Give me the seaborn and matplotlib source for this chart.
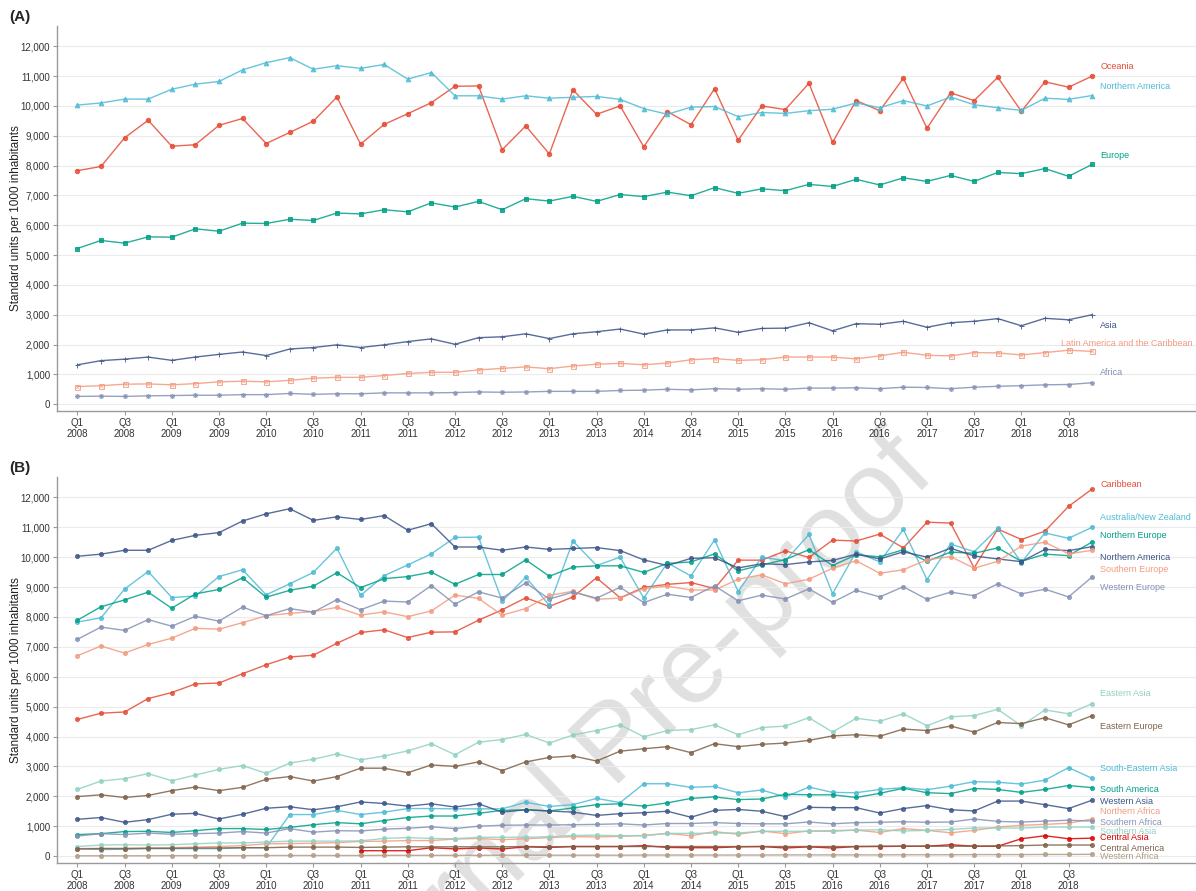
import matplotlib
matplotlib.use('Agg')
import pandas as pd
import matplotlib.pyplot as plt
import seaborn as sns
from matplotlib.ticker import FuncFormatter, MultipleLocator

# Estilo general
sns.set_theme(style='white')
plt.rcParams['font.family'] = ['Liberation Sans', 'DejaVu Sans']

YEARS = list(range(2008, 2019))
N_Q = 4 * len(YEARS)
TICK_POS = list(range(0, N_Q, 2))
TICK_LABELS = [f'Q{q}\n{y}' for y in YEARS for q in (1, 3)]

# ---- Panel A: regiones continentales (unidades estandar por 1000 hab.) ----
oceania = [7830, 7970, 8930, 9520, 8650, 8700, 9350, 9580, 8740, 9110, 9490, 10300,
           8720, 9380, 9740, 10110, 10660, 10670, 8530, 9330, 8390, 10540, 9720, 10000,
           8630, 9810, 9370, 10580, 8850, 10000, 9880, 10760, 8780, 10180, 9840, 10930,
           9250, 10440, 10180, 10960, 9820, 10810, 10630, 11000]
north_america = [10030, 10100, 10230, 10230, 10560, 10730, 10820, 11210, 11450, 11620, 11230, 11350,
                 11260, 11390, 10900, 11120, 10340, 10340, 10230, 10340, 10260, 10290, 10320, 10220,
                 9910, 9720, 9960, 9980, 9640, 9780, 9750, 9840, 9890, 10100, 9940, 10180,
                 10000, 10300, 10040, 9940, 9850, 10260, 10220, 10350]
europe = [5220, 5490, 5400, 5610, 5600, 5880, 5800, 6070, 6060, 6200, 6160, 6410,
          6380, 6520, 6450, 6750, 6610, 6800, 6520, 6890, 6810, 6970, 6800, 7030,
          6960, 7110, 6990, 7260, 7070, 7220, 7160, 7370, 7300, 7540, 7350, 7590,
          7470, 7670, 7470, 7770, 7730, 7900, 7640, 8040]
asia = [1320, 1460, 1510, 1580, 1470, 1580, 1670, 1750, 1630, 1850, 1900, 1990,
        1900, 1990, 2100, 2190, 2010, 2230, 2260, 2360, 2200, 2360, 2430, 2520,
        2350, 2490, 2490, 2560, 2410, 2540, 2550, 2730, 2460, 2700, 2680, 2780,
        2580, 2730, 2780, 2870, 2630, 2880, 2830, 3000]
latin_america = [590, 620, 670, 680, 650, 690, 750, 770, 750, 800, 870, 900,
                 900, 960, 1030, 1070, 1070, 1150, 1200, 1250, 1190, 1280, 1340, 1370,
                 1320, 1380, 1490, 1530, 1470, 1490, 1580, 1580, 1580, 1520, 1620, 1740,
                 1640, 1620, 1730, 1720, 1650, 1730, 1810, 1770]
africa = [260, 270, 260, 280, 290, 300, 300, 320, 320, 360, 330, 350,
          350, 380, 380, 380, 390, 410, 400, 410, 430, 430, 430, 460,
          470, 500, 480, 520, 500, 520, 500, 540, 540, 550, 520, 570,
          560, 520, 570, 600, 620, 650, 660, 720]

# ---- Panel B: subregiones ----
caribbean = [4570, 4780, 4820, 5270, 5470, 5760, 5790, 6100, 6400, 6660, 6720, 7120,
             7480, 7570, 7310, 7490, 7500, 7890, 8240, 8640, 8350, 8670, 9310, 8640,
             8990, 9090, 9150, 8950, 9900, 9900, 10210, 9990, 10570, 10540, 10770, 10310,
             11170, 11140, 9640, 10940, 10590, 10870, 11700, 12280]
northern_europe = [7890, 8340, 8570, 8830, 8290, 8770, 8920, 9310, 8660, 8890, 9030, 9480,
                   8980, 9280, 9350, 9500, 9090, 9420, 9420, 9910, 9360, 9670, 9710, 9710,
                   9490, 9790, 9840, 10110, 9540, 9740, 9920, 10250, 9720, 10080, 10010, 10250,
                   9860, 10170, 10130, 10310, 9860, 10100, 10050, 10510]
southern_europe = [6700, 7030, 6790, 7080, 7290, 7620, 7590, 7810, 8040, 8120, 8180, 8320,
                   8060, 8170, 8010, 8200, 8730, 8620, 8060, 8280, 8720, 8860, 8590, 8630,
                   8950, 9030, 8900, 8900, 9260, 9410, 9110, 9260, 9630, 9880, 9460, 9580,
                   9910, 10020, 9630, 9860, 10370, 10500, 10110, 10230]
western_europe = [7250, 7660, 7550, 7910, 7690, 8020, 7860, 8330, 8040, 8280, 8160, 8580,
                  8240, 8530, 8500, 9050, 8430, 8840, 8630, 9140, 8600, 8830, 8630, 8990,
                  8480, 8760, 8650, 9040, 8540, 8730, 8600, 8940, 8490, 8890, 8670, 9010,
                  8590, 8830, 8710, 9110, 8770, 8930, 8670, 9340]
eastern_asia = [2230, 2510, 2590, 2760, 2520, 2710, 2900, 3030, 2770, 3110, 3240, 3420,
                3220, 3350, 3520, 3760, 3390, 3810, 3900, 4070, 3780, 4050, 4200, 4390,
                3990, 4200, 4230, 4390, 4060, 4300, 4350, 4630, 4150, 4610, 4510, 4760,
                4360, 4660, 4700, 4910, 4360, 4890, 4760, 5100]
eastern_europe = [1990, 2050, 1960, 2030, 2190, 2310, 2190, 2300, 2570, 2660, 2510, 2660,
                  2940, 2940, 2790, 3050, 3000, 3150, 2860, 3150, 3300, 3350, 3180, 3510,
                  3590, 3660, 3460, 3760, 3660, 3740, 3780, 3870, 4020, 4060, 4010, 4250,
                  4200, 4350, 4150, 4470, 4430, 4630, 4390, 4700]
se_asia = [250, 220, 230, 250, 250, 250, 250, 280, 280, 1390, 1390, 1530,
           1390, 1470, 1590, 1590, 1580, 1580, 1580, 1800, 1660, 1720, 1930, 1790,
           2420, 2420, 2300, 2330, 2120, 2210, 1980, 2310, 2130, 2120, 2230, 2290,
           2220, 2340, 2490, 2470, 2410, 2540, 2960, 2600]
south_america = [720, 750, 820, 830, 790, 850, 920, 920, 890, 960, 1050, 1120,
                 1080, 1190, 1290, 1340, 1340, 1430, 1530, 1550, 1510, 1610, 1720, 1750,
                 1670, 1780, 1930, 1980, 1890, 1910, 2070, 2050, 2050, 1960, 2100, 2270,
                 2120, 2090, 2260, 2230, 2130, 2230, 2360, 2290]
western_asia = [1230, 1290, 1130, 1220, 1400, 1430, 1240, 1400, 1600, 1650, 1550, 1650,
                1810, 1760, 1670, 1750, 1640, 1750, 1470, 1550, 1510, 1470, 1360, 1420,
                1450, 1500, 1300, 1530, 1560, 1500, 1320, 1630, 1620, 1620, 1440, 1590,
                1690, 1550, 1510, 1840, 1840, 1720, 1590, 1870]
northern_africa = [250, 260, 260, 270, 280, 300, 320, 350, 410, 420, 430, 450,
                   490, 500, 520, 520, 570, 590, 550, 580, 620, 650, 640, 660,
                   690, 760, 680, 820, 730, 840, 750, 840, 850, 870, 790, 920,
                   860, 780, 860, 970, 1030, 1060, 1100, 1240]
southern_africa = [670, 750, 720, 770, 730, 750, 770, 820, 770, 920, 800, 850,
                   840, 900, 930, 980, 920, 1000, 1030, 1040, 1040, 1050, 1060, 1080,
                   1040, 1090, 1090, 1120, 1090, 1080, 1080, 1140, 1080, 1120, 1130, 1150,
                   1130, 1140, 1240, 1160, 1140, 1170, 1200, 1170]
southern_asia = [320, 370, 380, 370, 380, 410, 440, 440, 470, 500, 500, 500,
                 510, 590, 620, 590, 580, 630, 630, 630, 650, 690, 700, 680,
                 680, 760, 760, 770, 770, 830, 830, 830, 830, 870, 880, 840,
                 860, 890, 940, 940, 940, 970, 970, 970]
# Asia Central sin datos antes de 2011
central_asia = [None] * 12 + [180, 180, 180, 280, 240, 270, 240, 310, 290, 320, 320, 320,
                              350, 290, 280, 280, 310, 320, 270, 310, 270, 320, 320, 330,
                              330, 380, 330, 330, 580, 680, 580, 600]
central_america = [240, 250, 250, 260, 260, 270, 270, 280, 280, 300, 300, 300,
                   290, 300, 310, 310, 310, 310, 310, 320, 310, 320, 320, 320,
                   320, 320, 320, 320, 320, 320, 320, 320, 320, 320, 330, 330,
                   330, 330, 330, 340, 350, 370, 370, 370]
western_africa = [10, 10, 10, 10, 15, 15, 15, 15, 20, 20, 20, 20,
                  20, 25, 25, 25, 25, 25, 30, 30, 30, 30, 30, 30,
                  35, 35, 35, 35, 35, 35, 40, 40, 40, 40, 40, 45,
                  45, 45, 50, 50, 50, 55, 55, 60]

SERIES_A = {
    'Oceania': oceania,
    'Northern America': north_america,
    'Europe': europe,
    'Asia': asia,
    'Latin America and the Caribbean': latin_america,
    'Africa': africa,
}
SERIES_B = {
    'Caribbean': caribbean,
    'Australia/New Zealand': oceania,
    'Northern Europe': northern_europe,
    'Northern America': north_america,
    'Southern Europe': southern_europe,
    'Western Europe': western_europe,
    'Eastern Asia': eastern_asia,
    'Eastern Europe': eastern_europe,
    'South-Eastern Asia': se_asia,
    'South America': south_america,
    'Western Asia': western_asia,
    'Northern Africa': northern_africa,
    'Southern Africa': southern_africa,
    'Southern Asia': southern_asia,
    'Central Asia': central_asia,
    'Central America': central_america,
    'Western Africa': western_africa,
}

# colores (paleta npg) y marcadores
STYLE_A = {
    'Oceania': ('#E64B35', 'o'),
    'Northern America': ('#4DBBD5', '^'),
    'Europe': ('#00A087', 's'),
    'Asia': ('#3C5488', '+'),
    'Latin America and the Caribbean': ('#F39B7F', 'boxx'),
    'Africa': ('#8491B4', (8, 2, 0)),
}
STYLE_B = {
    'Caribbean': '#E64B35', 'Australia/New Zealand': '#4DBBD5', 'Northern Europe': '#00A087',
    'Northern America': '#3C5488', 'Southern Europe': '#F39B7F', 'Western Europe': '#8491B4',
    'Eastern Asia': '#91D1C2', 'Eastern Europe': '#7E6148', 'South-Eastern Asia': '#4DBBD5',
    'South America': '#00A087', 'Western Asia': '#3C5488', 'Northern Africa': '#F39B7F',
    'Southern Africa': '#8491B4', 'Southern Asia': '#91D1C2', 'Central Asia': '#DC0000',
    'Central America': '#7E6148', 'Western Africa': '#B09C85',
}

# posicion vertical de las etiquetas de la derecha (repel manual)
LABEL_Y_A = {'Oceania': 11320, 'Northern America': 10640, 'Europe': 8350, 'Asia': 2630,
             'Latin America and the Caribbean': 2040, 'Africa': 1050}
LABEL_Y_B = {'Caribbean': 12420, 'Australia/New Zealand': 11330, 'Northern Europe': 10720,
             'Northern America': 9990, 'Southern Europe': 9580, 'Western Europe': 8980,
             'Eastern Asia': 5430, 'Eastern Europe': 4350, 'South-Eastern Asia': 2940,
             'South America': 2220, 'Western Asia': 1810, 'Northern Africa': 1500,
             'Southern Africa': 1120, 'Southern Asia': 810, 'Central Asia': 610,
             'Central America': 270, 'Western Africa': -20}


def to_long(series):
    rows = []
    for region, values in series.items():
        for i, v in enumerate(values):
            if v is None:
                continue
            rows.append({'region': region, 'q': i, 'value': v})
    return pd.DataFrame(rows)


def style_axis(ax):
    ax.set_facecolor('none')
    ax.set_xlim(-0.86, 47.4)
    ax.set_ylim(-220, 12680)
    ax.yaxis.set_major_locator(MultipleLocator(1000))
    ax.yaxis.set_major_formatter(FuncFormatter(lambda v, _: f'{int(v):,}'))
    ax.set_xticks(TICK_POS)
    ax.set_xticklabels(TICK_LABELS)
    ax.grid(axis='y', color='#ebebeb', linewidth=0.8)
    ax.grid(axis='x', visible=False)
    for side in ('top', 'right'):
        ax.spines[side].set_visible(False)
    for side in ('left', 'bottom'):
        ax.spines[side].set_color('#9a9a9a')
        ax.spines[side].set_linewidth(1.0)
    ax.tick_params(axis='both', length=3, width=0.8, color='#9a9a9a',
                   labelsize=7, labelcolor='#333333', pad=2, bottom=True, left=True)
    ax.set_xlabel('')
    ax.set_ylabel('Standard units per 1000 inhabitants', fontsize=8.5, color='#222222')
    ax.yaxis.set_label_coords(-0.031, 0.5)


def draw_panel_a(ax, df):
    for region, (color, marker) in STYLE_A.items():
        sub = df[df['region'] == region]
        if marker == 'boxx':
            # cuadrado con aspa (shape 7 de ggplot)
            sns.lineplot(data=sub, x='q', y='value', color=color, marker='s', markersize=3.6,
                         markerfacecolor='none', markeredgecolor=color, markeredgewidth=0.7,
                         linewidth=1.0, alpha=0.85, errorbar=None, ax=ax)
            ax.plot(sub['q'], sub['value'], linestyle='none', marker='x', markersize=2.6,
                    color=color, markeredgewidth=0.5, alpha=0.85)
        else:
            size = {'o': 3.2, '^': 3.4, 's': 3.0}.get(marker, 3.6)
            sns.lineplot(data=sub, x='q', y='value', color=color, marker=marker,
                         markersize=size, markeredgecolor=color, markeredgewidth=0.7,
                         linewidth=1.0, alpha=0.85, errorbar=None, ax=ax)
        ax.text(43.35 if region != 'Latin America and the Caribbean' else 41.7,
                LABEL_Y_A[region], region, color=color, fontsize=6.5, va='center', ha='left')


def draw_panel_b(ax, df):
    for region, color in STYLE_B.items():
        sub = df[df['region'] == region]
        sns.lineplot(data=sub, x='q', y='value', color=color, marker='o', markersize=3.1,
                     markeredgecolor=color, markeredgewidth=0.5,
                     linewidth=1.0, alpha=0.85, errorbar=None, ax=ax)
        ax.text(43.35, LABEL_Y_B[region], region, color=color, fontsize=6.5, va='center', ha='left')


def main():
    df_a = to_long(SERIES_A)
    df_b = to_long(SERIES_B)

    fig = plt.figure(figsize=(11.96, 8.91), dpi=100)
    fig.patch.set_facecolor('white')
    ax_a = fig.add_axes([0.0477, 0.539, 0.9523, 0.4318])
    ax_b = fig.add_axes([0.0477, 0.0318, 0.9523, 0.4328])

    draw_panel_a(ax_a, df_a)
    draw_panel_b(ax_b, df_b)
    style_axis(ax_a)
    style_axis(ax_b)

    fig.text(0.008, 1 - 17 / 891, '(A)', fontsize=11, fontweight='bold', va='center')
    fig.text(0.008, 1 - 468 / 891, '(B)', fontsize=11, fontweight='bold', va='center')

    # marca de agua de la revista
    fig.text(0.516, 0.162, 'Journal Pre-proof', rotation=44, fontsize=78, color='#e0e0e0',
             ha='center', va='center', zorder=-1)

    fig.savefig('out.png', dpi=100, facecolor='white')
    plt.close(fig)


if __name__ == '__main__':
    main()
